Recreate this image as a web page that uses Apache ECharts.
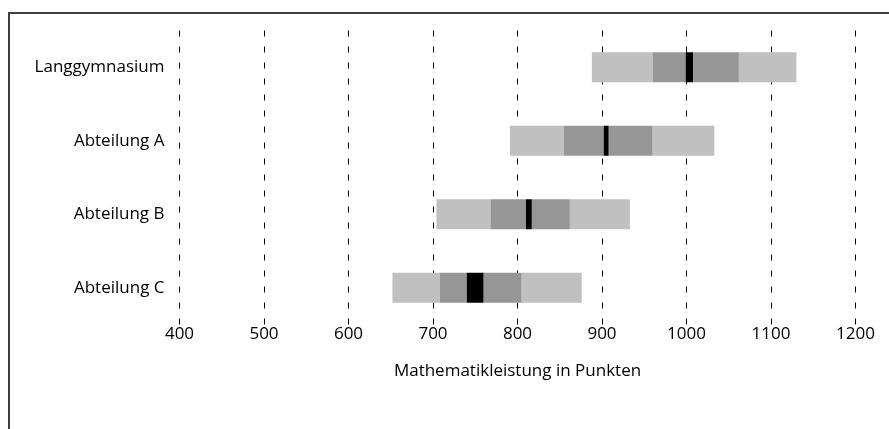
<!DOCTYPE html>
<html><head><meta charset="utf-8">
<script src="https://cdn.jsdelivr.net/npm/echarts@6/dist/echarts.min.js"></script>
<style>html,body{margin:0;padding:0;background:#fff}#c{width:889px;height:429px}</style>
</head><body><div id="c"></div>
<script>
const categories = ['Langgymnasium', 'Abteilung A', 'Abteilung B', 'Abteilung C'];
const p5   = [888, 791, 704, 652];
const p25  = [960, 855, 768, 708];
const ciLo = [999, 902, 810, 740];
const ciHi = [1008, 908, 817, 760];
const p75  = [1062, 960, 862, 805];
const p95  = [1130, 1033, 933, 876];
const xTicks = [400, 500, 600, 700, 800, 900, 1000, 1100, 1200];
const axisTitle = 'Mathematikleistung in Punkten';

const FONT = '"Open Sans", sans-serif';
const diff = (a, b) => a.map((v, i) => v - b[i]);
const segs = [
  { data: p5, color: 'rgba(0,0,0,0)' },
  { data: diff(p25, p5), color: '#c0c0c0' },
  { data: diff(ciLo, p25), color: '#969696' },
  { data: diff(ciHi, ciLo), color: '#000000' },
  { data: diff(p75, ciHi), color: '#969696' },
  { data: diff(p95, p75), color: '#c0c0c0' }
];
const chart = echarts.init(document.getElementById('c'), null, { renderer: 'canvas' });
chart.setOption({
  animation: false,
  graphic: [{
    type: 'polyline', silent: true,
    shape: { points: [[9, 440], [9, 13], [900, 13]] },
    style: { stroke: '#404040', lineWidth: 2, fill: null }
  }],
  grid: { left: 179.5, width: 676, top: 30.5, height: 294 },
  xAxis: {
    type: 'value', min: xTicks[0], max: xTicks[xTicks.length - 1], interval: 100,
    axisLine: { show: false }, axisTick: { show: false },
    splitLine: { show: true, lineStyle: { color: '#000', width: 1, type: [6, 10] } },
    axisLabel: { color: '#000', fontSize: 17, fontFamily: FONT, margin: 1,
      formatter: v => String(v) },
    name: axisTitle, nameLocation: 'middle', nameGap: 38,
    nameTextStyle: { color: '#000', fontSize: 17, fontFamily: FONT }
  },
  yAxis: {
    type: 'category', data: categories, inverse: true,
    axisLine: { show: false }, axisTick: { show: false },
    axisLabel: { color: '#000', fontSize: 17, fontFamily: FONT, margin: 15 }
  },
  series: segs.map((s, i) => ({
    type: 'bar', stack: 'all', barWidth: 30, data: s.data,
    itemStyle: { color: s.color }, silent: true, z: 2 + i
  }))
});
</script></body></html>
